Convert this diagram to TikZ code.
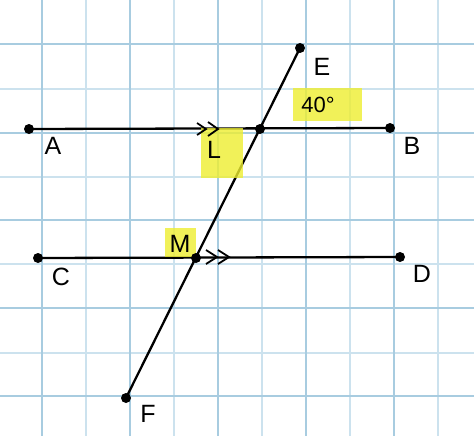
\documentclass[tikz,border=0pt]{standalone}
\usepackage{fontspec}
\setmainfont{Liberation Sans}
\usetikzlibrary{calc}
\definecolor{gridmaj}{HTML}{A8CCE0}
\definecolor{gridmin}{HTML}{CCE2EE}
\definecolor{hl}{HTML}{EEEE30}
\tikzset{
  pt/.style={circle,fill=black,inner sep=0pt,minimum size=10pt},
  lbl/.style={font=\fontsize{25}{25}\selectfont,inner sep=0pt},
  seg/.style={line width=2.3pt},
  hlbox/.style={fill=hl,fill opacity=0.8,draw=none},
  chev/.style={line width=1.8pt}
}
\begin{document}
\begin{tikzpicture}[x=1pt,y=-1pt]
\useasboundingbox (0,0) rectangle (474,436);
\fill[white] (0,0) rectangle (474,436);
% grid
\foreach \x in {86,174,262,350,438} \draw[gridmin,line width=1.3pt] (\x,0) -- (\x,436);
\foreach \y in {89,177,264,353} \draw[gridmin,line width=1.3pt] (0,\y) -- (474,\y);
\foreach \x in {42,130,218,306,394} \draw[gridmaj,line width=1.3pt] (\x,0) -- (\x,436);
\foreach \y in {44,133,220,308,396} \draw[gridmaj,line width=1.3pt] (0,\y) -- (474,\y);
% points
\coordinate (A) at (29,129);
\coordinate (B) at (390,128);
\coordinate (E) at (300,48);
\coordinate (F) at (126,398);
\coordinate (L) at (260,129);
\coordinate (C) at (38,258);
\coordinate (M) at (196,258);
\coordinate (D) at (400,257);
% highlight boxes
\fill[hlbox] (293,88) rectangle (362,121);
% lines
\draw[seg] (A) -- (B);
\draw[seg] (C) -- (D);
\draw[seg] (E) -- (F);
\fill[hlbox] (201,128) rectangle (243,178);
\fill[hlbox] (165,228) rectangle (196,257);
% chevrons
\draw[chev] (197,123) -- (206,129) -- (197,135);
\draw[chev] (208,122) -- (218,129) -- (208,136);
\draw[chev] (206,250) -- (217,257) -- (206,264);
\draw[chev] (218,250) -- (229,257) -- (218,264);
% dots
\foreach \p in {A,B,E,F,L,C,M,D} \node[pt] (d\p) at (\p) {};
% labels
\node[lbl] (lA) at (53,146) {A};
\node[lbl] (lB) at (412,146) {B};
\node[lbl] (lE) at (322,67) {E};
\node[lbl] (lL) at (214,150) {L};
\node[lbl,font=\fontsize{22}{22}\selectfont] (l40) at (318,105) {40°};
\node[lbl] (lM) at (180,244) {M};
\node[lbl] (lC) at (61,277) {C};
\node[lbl] (lD) at (422,274) {D};
\node[lbl] (lF) at (148,414) {F};
\end{tikzpicture}
\end{document}
